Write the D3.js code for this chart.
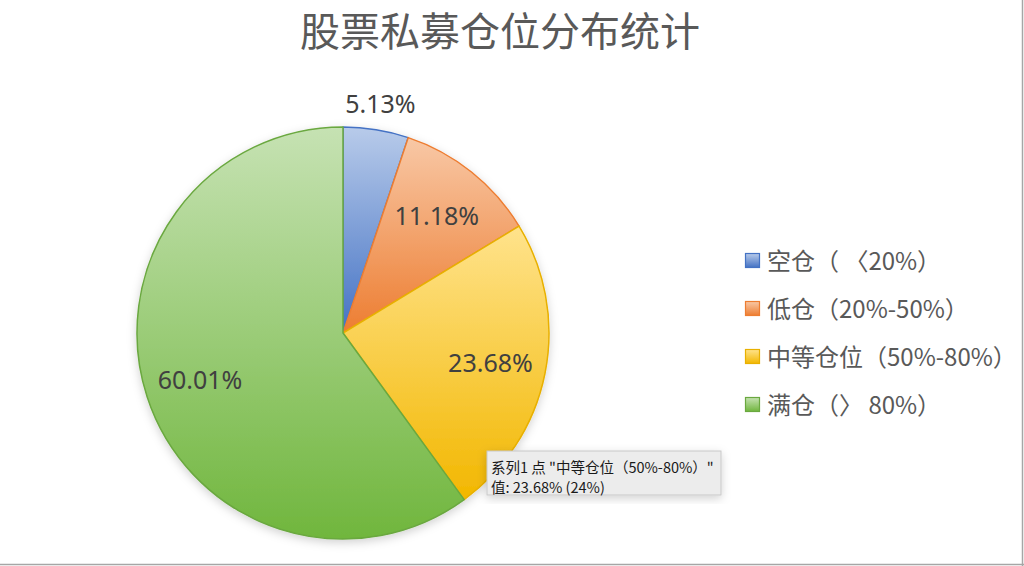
<!DOCTYPE html>
<html>
<head>
<meta charset="utf-8">
<script src="https://cdn.jsdelivr.net/npm/d3@7"></script>
<style>
  html, body { margin: 0; padding: 0; background: #fff; }
  svg { display: block; }
</style>
</head>
<body>
<div id="chart"></div>
<script>
var chartTitle = "股票私募仓位分布统计";
var categories = ["空仓（ 〈20%）", "低仓（20%-50%）", "中等仓位（50%-80%）", "满仓（〉 80%）"];
var values     = [5.13, 11.18, 23.68, 60.01];
var lightColors = ["#b8cbea", "#f8c8a6", "#ffe38c", "#c6e2b3"];
var darkColors  = ["#4472c4", "#ed7d31", "#f2b700", "#70b63d"];
var strokeColors = ["#4472c4", "#ed7d31", "#e8b000", "#6aa83f"];
var tooltipLines = ["系列1 点 \"中等仓位（50%-80%）\"", "值: 23.68% (24%)"];

var width = 1024, height = 566;
var cx = 343, cy = 333, radius = 206;

var svg = d3.select("#chart").append("svg")
    .attr("width", width)
    .attr("height", height);

var defs = svg.append("defs");

// one vertical gradient per slice, light on top
categories.forEach(function(c, i) {
  var g = defs.append("linearGradient")
      .attr("id", "grad" + i)
      .attr("x1", 0).attr("y1", 0)
      .attr("x2", 0).attr("y2", 1);
  g.append("stop").attr("offset", "0%").attr("stop-color", lightColors[i]);
  g.append("stop").attr("offset", "100%").attr("stop-color", darkColors[i]);
});

var shadow = defs.append("filter").attr("id", "shadow")
    .attr("x", "-20%").attr("y", "-20%").attr("width", "140%").attr("height", "140%");
shadow.append("feDropShadow")
    .attr("dx", 0).attr("dy", 3).attr("stdDeviation", 5)
    .attr("flood-color", "#000").attr("flood-opacity", 0.18);

// frame lines at right and bottom
svg.append("line").attr("x1", 1022.5).attr("x2", 1022.5).attr("y1", 0).attr("y2", height)
    .attr("stroke", "#a6a6a6").attr("stroke-width", 1.5);
svg.append("line").attr("x1", 0).attr("x2", width).attr("y1", 564.5).attr("y2", 564.5)
    .attr("stroke", "#a6a6a6").attr("stroke-width", 1.5);

svg.append("text")
    .attr("x", 500)
    .attr("y", 46)
    .attr("text-anchor", "middle")
    .attr("font-family", "'Noto Sans CJK SC', sans-serif")
    .attr("font-size", 40)
    .attr("fill", "#595959")
    .text(chartTitle);

var pie = d3.pie().sort(null).value(function(d) { return d; });
var arcs = pie(values);

var arc = d3.arc().innerRadius(0).outerRadius(radius);
var inLabel = d3.arc().innerRadius(radius * 0.73).outerRadius(radius * 0.73);
var outLabel = d3.arc().innerRadius(radius * 1.13).outerRadius(radius * 1.13);

var g = svg.append("g")
    .attr("transform", "translate(" + cx + "," + cy + ")");

g.append("g").attr("filter", "url(#shadow)")
  .selectAll("path")
  .data(arcs)
  .enter().append("path")
    .attr("d", arc)
    .attr("fill", function(d, i) { return "url(#grad" + i + ")"; })
    .attr("stroke", function(d, i) { return strokeColors[i]; })
    .attr("stroke-width", 1.5)
    .attr("stroke-linejoin", "round");

g.selectAll("text.label")
  .data(arcs)
  .enter().append("text")
    .attr("class", "label")
    .attr("transform", function(d) {
      var p = (d.endAngle - d.startAngle) < 0.4 ? outLabel.centroid(d) : inLabel.centroid(d);
      return "translate(" + p + ")";
    })
    .attr("text-anchor", "middle")
    .attr("dy", "0.38em")
    .attr("font-family", "'Noto Sans', sans-serif")
    .attr("font-size", 25)
    .attr("fill", "#404040")
    .text(function(d) { return d.value.toFixed(2) + "%"; });

// legend
var legend = svg.append("g")
    .attr("transform", "translate(745,261)");

var item = legend.selectAll("g")
  .data(categories)
  .enter().append("g")
    .attr("transform", function(d, i) { return "translate(0," + (i * 48) + ")"; });

item.append("rect")
    .attr("x", 0.5).attr("y", -7.5)
    .attr("width", 14).attr("height", 14)
    .attr("fill", function(d, i) { return "url(#grad" + i + ")"; })
    .attr("stroke", function(d, i) { return strokeColors[i]; })
    .attr("stroke-width", 1.2);

item.append("text")
    .attr("x", 22)
    .attr("dy", "0.36em")
    .attr("font-family", "'Noto Sans CJK SC', sans-serif")
    .attr("font-size", 24)
    .attr("fill", "#595959")
    .text(function(d) { return d; });

// hover tooltip
var tip = svg.append("g").attr("transform", "translate(487,451)");
tip.append("rect")
    .attr("width", 234).attr("height", 44)
    .attr("fill", "#ececec")
    .attr("stroke", "#c8c8c8")
    .attr("stroke-width", 1)
    .attr("filter", "url(#shadow)");
tip.selectAll("text")
  .data(tooltipLines)
  .enter().append("text")
    .attr("x", 4)
    .attr("y", function(d, i) { return 17 + i * 20; })
    .attr("dy", "0.36em")
    .attr("font-family", "'Noto Sans CJK SC', sans-serif")
    .attr("font-size", 14.5)
    .attr("fill", "#1a1a1a")
    .text(function(d) { return d; });
</script>
</body>
</html>
